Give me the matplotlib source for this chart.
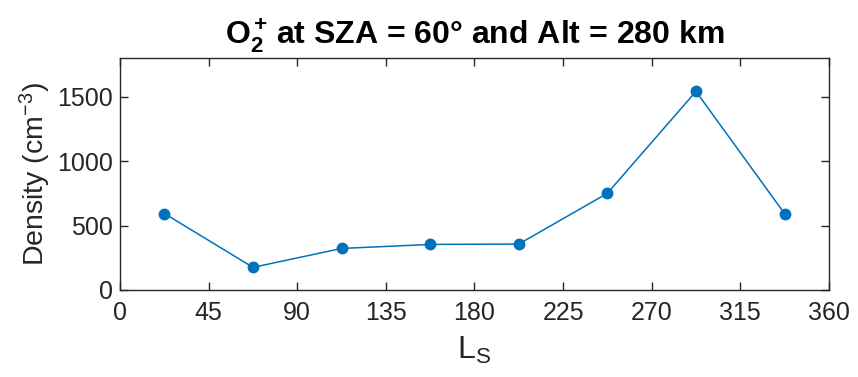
import matplotlib
matplotlib.use("Agg")
import matplotlib.pyplot as plt

ls = [22.5, 67.5, 112.5, 157.5, 202.5, 247.5, 292.5, 337.5]
density = [593, 175, 322, 353, 356, 750, 1541, 593]
xticks = [0, 45, 90, 135, 180, 225, 270, 315, 360]
yticks = [0, 500, 1000, 1500]

plt.rcParams['font.family'] = ['Liberation Sans', 'DejaVu Sans']
plt.rcParams['mathtext.fontset'] = 'custom'
plt.rcParams['mathtext.rm'] = 'Liberation Sans'
plt.rcParams['mathtext.it'] = 'Liberation Sans'
plt.rcParams['mathtext.bf'] = 'Liberation Sans:bold'

fig = plt.figure(figsize=(8.58, 3.77), dpi=100)
ax = fig.add_axes([0.14, 0.231, 0.826, 0.615])
ax.plot(ls, density, color='#0072BD', linewidth=1.1, marker='o', markersize=7.5)
ax.set_xlim(0, 360)
ax.set_ylim(0, 1800)
ax.set_xticks(xticks)
ax.set_yticks(yticks)
ax.tick_params(direction='in', top=True, right=True, labelsize=18, length=6, width=1,
               colors='#262626', pad=5)
ax.tick_params(axis='x', pad=8)
for s in ax.spines.values():
    s.set_color('#262626')
    s.set_linewidth(1)
ax.set_xlabel(r'L$_{\mathrm{S}}$', fontsize=23, color='#262626', labelpad=7)
ax.set_ylabel(r'Density (cm$^{-3}$)', fontsize=20.5, color='#262626', labelpad=3)
ax.set_title(r'$\mathbf{O_2^+}\,$at SZA = 60° and Alt = 280 km', fontsize=23, fontweight='bold', pad=10)
fig.savefig('out.png', dpi=100)
